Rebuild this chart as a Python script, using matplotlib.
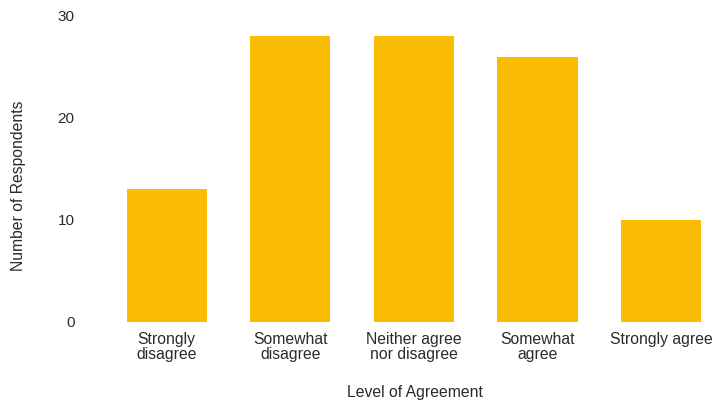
# Bar chart of survey responses by level of agreement

import matplotlib.pyplot as plt

categories = ['Strongly\ndisagree', 'Somewhat\ndisagree', 'Neither agree\nnor disagree',
              'Somewhat\nagree', 'Strongly agree']
respondents = [13, 28, 28, 26, 10]
y_ticks = [0, 10, 20, 30]

bar_color = '#FBBC04'
text_color = '#2a2a2a'

plt.rcParams['font.family'] = ['Liberation Sans', 'DejaVu Sans']

fig = plt.figure(figsize=(7.14, 4.07), dpi=100)
ax = fig.add_axes([0.147, 0.209, 0.848, 0.752])

positions = list(range(len(categories)))
ax.bar(positions, respondents, width=0.65, color=bar_color)

ax.set_xlim(-0.5, 4.4)
ax.set_ylim(0, 30)
ax.set_yticks(y_ticks)
ax.set_xticks(positions)
ax.set_xticklabels(categories, fontsize=11.3, color=text_color, linespacing=1.05)
ax.tick_params(axis='y', length=0, pad=22, labelsize=11, labelcolor=text_color)
ax.tick_params(axis='x', length=0, pad=7)

for spine in ax.spines.values():
    spine.set_visible(False)

ax.set_xlabel('Level of Agreement', fontsize=11.3, color=text_color)
ax.set_ylabel('Number of Respondents', fontsize=11.3, color=text_color)
ax.xaxis.set_label_coords(0.512, -0.205)
ax.yaxis.set_label_coords(-0.130, 0.444)

fig.savefig('out.png', dpi=100)
